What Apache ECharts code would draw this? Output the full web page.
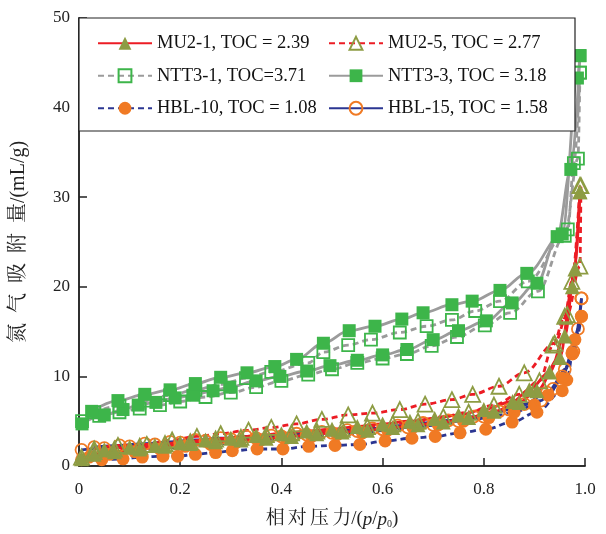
<!DOCTYPE html>
<html>
<head>
<meta charset="utf-8">
<script src="https://cdn.jsdelivr.net/npm/echarts@6/dist/echarts.min.js"></script>
<style>
  html, body { margin: 0; padding: 0; background: #fff; }
  #chart { width: 606px; height: 534px; }
</style>
</head>
<body>
<div id="chart"></div>
<script>
// Nitrogen adsorption / desorption isotherms: [relative pressure p/p0, uptake mL/g]
const sampleNames = [
  'MU2-1, TOC = 2.39', 'MU2-5, TOC = 2.77',
  'NTT3-1, TOC=3.71', 'NTT3-3, TOC = 3.18',
  'HBL-10, TOC = 1.08', 'HBL-15, TOC = 1.58'
];
const xTicks = [0, 0.2, 0.4, 0.6, 0.8, 1.0];
const yTicks = [0, 10, 20, 30, 40, 50];

const mu21Ads = [[0.005,0.8],[0.03,1.3],[0.07,1.6],[0.12,1.9],[0.17,2.2],[0.22,2.5],[0.27,2.7],[0.32,2.9],[0.37,3.1],[0.42,3.3],[0.47,3.6],[0.52,3.8],[0.57,4.0],[0.62,4.3],[0.67,4.6],[0.72,4.9],[0.77,5.4],[0.82,6.1],[0.87,7.1],[0.905,8.4],[0.95,12.1],[0.975,20.0],[0.99,30.6]];
const mu21Des = [[0.05,1.8],[0.1,2.1],[0.15,2.3],[0.2,2.6],[0.25,2.9],[0.3,3.1],[0.35,3.4],[0.4,3.6],[0.45,3.9],[0.5,4.1],[0.55,4.4],[0.6,4.7],[0.654,5.0],[0.703,5.3],[0.75,5.7],[0.8,6.3],[0.857,7.2],[0.89,8.5],[0.93,10.5],[0.96,14.5],[0.98,22.0],[0.99,30.6]];

const mu25Ads = [[0.005,1.0],[0.03,1.6],[0.07,1.9],[0.12,2.2],[0.17,2.5],[0.22,2.7],[0.27,3.0],[0.32,3.2],[0.37,3.5],[0.42,3.7],[0.47,3.9],[0.52,4.1],[0.57,4.4],[0.62,4.7],[0.67,5.0],[0.72,5.5],[0.77,6.0],[0.82,6.8],[0.87,8.0],[0.91,9.5],[0.937,13.5],[0.96,16.7],[0.974,20.6],[0.99,31.3]];
const mu25Des = [[0.03,1.9],[0.077,2.3],[0.134,2.4],[0.184,2.9],[0.233,3.3],[0.28,3.6],[0.335,4.0],[0.38,4.3],[0.43,4.7],[0.48,5.2],[0.532,5.7],[0.58,5.9],[0.634,6.3],[0.684,6.9],[0.737,7.4],[0.778,8.0],[0.83,8.9],[0.88,10.4],[0.94,13.7],[0.965,16.9],[0.99,22.3],[0.992,31.3]];

const ntt31Ads = [[0.006,5.0],[0.04,5.6],[0.08,6.0],[0.12,6.4],[0.16,6.8],[0.2,7.2],[0.25,7.7],[0.3,8.2],[0.35,8.8],[0.4,9.5],[0.453,10.2],[0.5,10.8],[0.55,11.5],[0.6,12.0],[0.648,12.5],[0.697,13.4],[0.747,14.4],[0.802,15.7],[0.852,17.1],[0.907,19.5],[0.96,25.7],[0.986,34.3],[0.99,43.9]];
const ntt31Des = [[0.03,6.0],[0.08,6.7],[0.13,7.3],[0.18,7.9],[0.23,8.5],[0.28,9.1],[0.33,9.8],[0.38,10.5],[0.453,11.5],[0.483,12.7],[0.532,13.5],[0.577,14.1],[0.634,14.9],[0.687,15.6],[0.737,16.3],[0.783,17.3],[0.832,18.4],[0.887,20.6],[0.966,26.4],[0.978,33.8],[0.99,43.9]];

const ntt33Ads = [[0.006,4.7],[0.05,5.7],[0.087,6.3],[0.117,6.8],[0.152,7.1],[0.19,7.6],[0.225,7.9],[0.265,8.4],[0.298,8.8],[0.35,9.5],[0.397,10.0],[0.45,10.6],[0.496,11.2],[0.55,11.8],[0.6,12.4],[0.648,13.0],[0.70,14.1],[0.75,15.1],[0.805,16.2],[0.856,18.2],[0.905,20.4],[0.945,25.6],[0.972,33.1],[0.99,45.8]];
const ntt33Des = [[0.025,6.1],[0.077,7.3],[0.13,8.0],[0.18,8.5],[0.23,9.2],[0.28,9.9],[0.332,10.4],[0.387,11.1],[0.43,11.9],[0.483,13.7],[0.534,15.1],[0.585,15.6],[0.638,16.4],[0.68,17.1],[0.737,18.0],[0.777,18.4],[0.832,19.6],[0.885,21.5],[0.955,25.9],[0.985,43.3],[0.99,45.8]];

const hbl10Ads = [[0.005,0.7],[0.045,0.7],[0.087,0.8],[0.125,1.0],[0.166,1.1],[0.195,1.1],[0.23,1.3],[0.27,1.5],[0.303,1.7],[0.352,1.9],[0.403,1.9],[0.454,2.2],[0.506,2.3],[0.555,2.4],[0.605,2.8],[0.658,3.1],[0.704,3.3],[0.753,3.7],[0.804,4.1],[0.856,4.9],[0.905,6.0],[0.955,8.4],[0.964,9.6],[0.98,14.1],[0.993,16.7]];
const hbl10Des = [[0.02,1.0],[0.06,1.3],[0.11,1.6],[0.16,1.9],[0.21,2.2],[0.26,2.4],[0.31,2.6],[0.36,2.9],[0.41,3.1],[0.46,3.3],[0.51,3.5],[0.56,3.7],[0.61,4.0],[0.66,4.3],[0.71,4.6],[0.76,5.0],[0.81,5.4],[0.86,6.0],[0.9,6.8],[0.927,7.9],[0.955,9.8],[0.975,12.5],[0.993,16.7]];

const hbl15Ads = [[0.005,1.8],[0.05,2.0],[0.1,2.2],[0.15,2.4],[0.2,2.6],[0.25,2.8],[0.3,3.0],[0.35,3.1],[0.4,3.3],[0.45,3.5],[0.5,3.7],[0.55,3.9],[0.6,4.1],[0.65,4.3],[0.7,4.6],[0.75,5.0],[0.8,5.5],[0.85,6.3],[0.913,7.3],[0.937,8.6],[0.96,10.8],[0.977,12.8],[0.986,15.3],[0.993,18.7]];
const hbl15Des = [[0.03,2.1],[0.08,2.3],[0.13,2.5],[0.18,2.7],[0.23,2.9],[0.28,3.1],[0.33,3.3],[0.38,3.4],[0.43,3.6],[0.48,3.8],[0.53,4.0],[0.58,4.2],[0.63,4.5],[0.68,4.8],[0.73,5.1],[0.78,5.5],[0.83,6.1],[0.88,6.9],[0.925,8.2],[0.955,10.0],[0.975,12.6],[0.993,18.7]];

const RED = '#ec1c24', GRAY = '#9b9b9b', NAVY = '#2b3692';
const GREEN = '#3db54a', OLIVE = '#8d9c43', ORANGE = '#f07a24';
const SERIF = '"Liberation Serif", "Times New Roman", "Noto Serif CJK SC", "Noto Sans CJK SC", serif';

function branch(name, data, lineColor, dash, symbol, size, fill, border) {
  return {
    name: name,
    type: 'line',
    data: data,
    smooth: 0.35,
    smoothMonotone: 'x',
    symbol: symbol,
    symbolSize: size,
    showAllSymbol: true,
    lineStyle: { color: lineColor, width: 2.8, type: dash ? [6, 4] : 'solid' },
    itemStyle: { color: fill, borderColor: border, borderWidth: fill === border ? 0 : 1.8 },
    emphasis: { disabled: true },
    animation: false
  };
}

const series = [
  branch(sampleNames[4], hbl10Ads, NAVY, true, 'circle', 13, ORANGE, ORANGE),
  branch(sampleNames[4], hbl10Des, NAVY, true, 'circle', 13, ORANGE, ORANGE),
  branch(sampleNames[5], hbl15Ads, NAVY, false, 'circle', 12, 'rgba(255,255,255,0)', ORANGE),
  branch(sampleNames[5], hbl15Des, NAVY, false, 'circle', 12, 'rgba(255,255,255,0)', ORANGE),
  branch(sampleNames[0], mu21Ads, RED, false, 'triangle', 15, OLIVE, OLIVE),
  branch(sampleNames[0], mu21Des, RED, false, 'triangle', 15, OLIVE, OLIVE),
  branch(sampleNames[1], mu25Ads, RED, true, 'triangle', 15, 'rgba(255,255,255,0)', OLIVE),
  branch(sampleNames[1], mu25Des, RED, true, 'triangle', 15, 'rgba(255,255,255,0)', OLIVE),
  branch(sampleNames[2], ntt31Ads, GRAY, true, 'rect', 12, 'rgba(255,255,255,0)', GREEN),
  branch(sampleNames[2], ntt31Des, GRAY, true, 'rect', 12, 'rgba(255,255,255,0)', GREEN),
  branch(sampleNames[3], ntt33Ads, GRAY, false, 'rect', 13, GREEN, GREEN),
  branch(sampleNames[3], ntt33Des, GRAY, false, 'rect', 13, GREEN, GREEN)
];

const legendCommon = {
  orient: 'vertical',
  top: 29,
  itemWidth: 54,
  itemHeight: 16,
  itemGap: 14,
  selectedMode: false,
  textStyle: { fontFamily: SERIF, fontSize: 18.5, color: '#111' },
  z: 6
};

const option = {
  backgroundColor: '#fff',
  animation: false,
  grid: { left: 79, right: 21, top: 18, bottom: 65 },
  graphic: [{
    type: 'rect',
    z: 5,
    shape: { x: 79, y: 18, width: 496, height: 113 },
    style: { fill: '#fff', stroke: '#222', lineWidth: 1.2 }
  }],
  legend: [
    Object.assign({ left: 92, data: [sampleNames[0], sampleNames[2], sampleNames[4]] }, legendCommon),
    Object.assign({ left: 323, data: [sampleNames[1], sampleNames[3], sampleNames[5]] }, legendCommon)
  ],
  xAxis: [{
    type: 'value',
    min: xTicks[0], max: xTicks[xTicks.length - 1], interval: 0.2,
    axisLine: { lineStyle: { color: '#222', width: 1.5 } },
    axisTick: { inside: true, length: 8, lineStyle: { color: '#222', width: 1.5 } },
    splitLine: { show: false },
    axisLabel: {
      margin: 15, fontFamily: SERIF, fontSize: 17, color: '#222',
      formatter: v => (v === 0 ? '0' : v.toFixed(1))
    },
    name: '{t|相\u2006对\u2006压\u2006力/(}{i|p}{t|/}{i|p}{s|0}{t|)}',
    nameLocation: 'middle',
    nameGap: 44,
    nameTextStyle: {
      rich: {
        t: { fontFamily: SERIF, fontSize: 19, color: '#222' },
        i: { fontFamily: SERIF, fontSize: 19, fontStyle: 'italic', color: '#222' },
        s: { fontFamily: SERIF, fontSize: 10, color: '#222', verticalAlign: 'bottom', padding: [9, 0, 0, 0] }
      }
    }
  }, {
    type: 'value', position: 'top', min: 0, max: 1,
    axisLine: { show: true, lineStyle: { color: '#222', width: 1.5 } },
    axisTick: { show: false }, axisLabel: { show: false }, splitLine: { show: false }
  }],
  yAxis: [{
    type: 'value',
    min: yTicks[0], max: yTicks[yTicks.length - 1], interval: 10,
    axisLine: { show: true, lineStyle: { color: '#222', width: 1.5 } },
    axisTick: { show: true, inside: true, length: 8, lineStyle: { color: '#222', width: 1.5 } },
    splitLine: { show: false },
    axisLabel: { margin: 9, fontFamily: SERIF, fontSize: 17, color: '#222' },
    name: '氮\u2002气\u2002吸\u2002附\u2002量/(mL/g)',
    nameLocation: 'middle',
    nameRotate: 90,
    nameGap: 50,
    nameTextStyle: { fontFamily: SERIF, fontSize: 20, color: '#222' }
  }, {
    type: 'value', position: 'right', min: 0, max: 50,
    axisLine: { show: true, lineStyle: { color: '#222', width: 1.5 } },
    axisTick: { show: false }, axisLabel: { show: false }, splitLine: { show: false }
  }],
  series: series
};

const chart = echarts.init(document.getElementById('chart'), null, { renderer: 'canvas' });
chart.setOption(option);
</script>
</body>
</html>
